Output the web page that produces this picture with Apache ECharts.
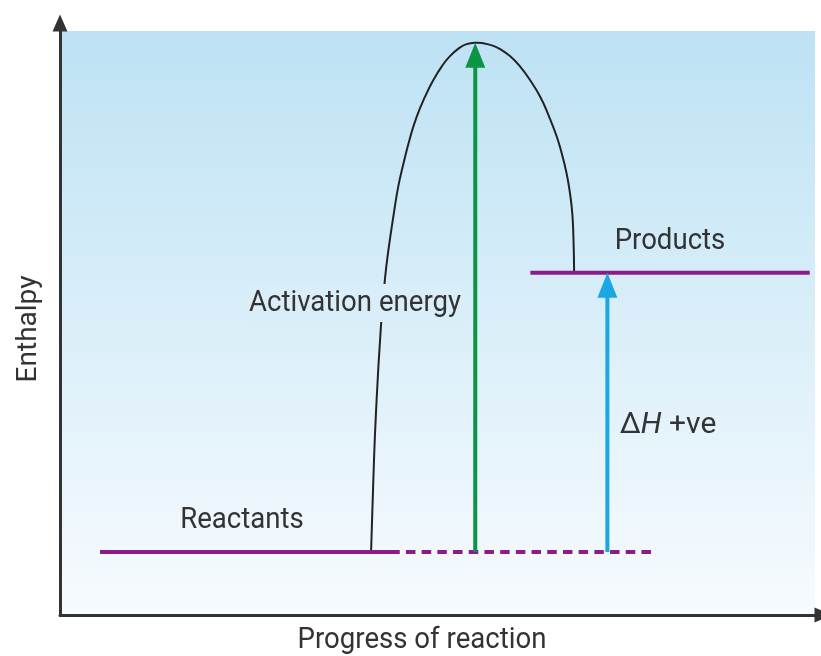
<!DOCTYPE html>
<html lang="en" style="height: 100%">
<head>
  <meta charset="utf-8">
</head>
<body style="height: 100%; margin: 0">
  <div id="container" style="width: 821px; height: 656px"></div>

  <script type="text/javascript" src="https://cdn.jsdelivr.net/npm/echarts@6/dist/echarts.min.js"></script>

  <script type="text/javascript">
    // enthalpy levels (0-100 scale)
    var reactantLevel = 10.8;
    var productLevel = 58.6;
    var peakLevel = 98.0;

    // extents along the progress of reaction (0-100 scale)
    var reactantSolid = [5.3, 45.0];
    var reactantDashed = [45.0, 78.5];
    var productSpan = [62.3, 99.3];

    // the activation hump
    var curveX = [41.2, 41.5, 41.85, 42.5, 43.05, 43.5, 44.15, 44.8, 45.5, 46.35, 47.25, 48.35, 49.45, 50.55, 51.65, 53.0, 53.85, 55.0,
                  56.05, 57.4, 58.3, 59.6, 60.95, 62.25, 63.6, 64.7, 65.8, 66.45, 67.1, 67.55, 67.85, 68.0, 68.1];
    var curveY = [10.8, 23.1, 34.6, 49.3, 57.65, 62.5, 68.2, 73.35, 77.35, 81.65, 85.35, 88.75, 91.6, 93.9, 95.7, 97.2, 97.75, 98.0,
                  97.9, 97.45, 96.9, 95.7, 93.9, 91.6, 88.75, 85.6, 81.9, 79.05, 75.6, 72.2, 68.8, 64.8, 58.6];

    // arrow positions
    var activationX = 55.0;
    var deltaHX = 72.5;

    var purple = '#8c1b8a';
    var green = '#0b9444';
    var blue = '#1ba6e4';
    var textColor = '#333';
    var font = 'Roboto, "Liberation Sans", sans-serif';

    var dom = document.getElementById('container');
    var myChart = echarts.init(dom, null, { renderer: 'canvas' });

    // shorten the shafts so the heads stay sharp (584px grid height per 100 units)
    var headTrim = 14 / 5.84;

    var curveData = curveX.map(function (x, i) { return [x, curveY[i]]; });

    function axisOpt() {
      return {
        type: 'value',
        min: 0,
        max: 100,
        axisLine: {
          show: true,
          symbol: ['none', 'triangle'],
          symbolSize: [15, 17],
          symbolOffset: [0, 8],
          lineStyle: { color: '#333', width: 3 }
        },
        axisTick: { show: false },
        axisLabel: { show: false },
        splitLine: { show: false }
      };
    }

    function label(text, x, y, extra, sx) {
      var style = {
        text: text, font: '30px ' + font, fill: textColor,
        align: 'center', verticalAlign: 'middle'
      };
      Object.assign(style, extra || {});
      return { type: 'text', x: x, y: y, scaleX: sx || 0.92, z: 10, style: style };
    }

    // the hump is drawn as one unconstrained smooth polyline through the read points
    function renderCurve(params, api) {
      var pts = curveData.map(function (p) { return api.coord(p); });
      return {
        type: 'polyline',
        shape: { points: pts, smooth: 0.5 },
        style: { stroke: '#222', lineWidth: 2, fill: null }
      };
    }

    var option = {
      animation: false,
      grid: {
        left: 60,
        right: 6,
        top: 31,
        bottom: 41,
        show: true,
        borderWidth: 0,
        backgroundColor: new echarts.graphic.LinearGradient(0, 0, 0, 1, [
          { offset: 0, color: '#bde2f4' },
          { offset: 1, color: '#f7fbfe' }
        ])
      },
      xAxis: axisOpt(),
      yAxis: axisOpt(),
      series: [
        {
          type: 'line',
          symbol: 'none',
          data: [[reactantSolid[0], reactantLevel], [reactantSolid[1], reactantLevel]],
          lineStyle: { color: purple, width: 4 }
        },
        {
          type: 'line',
          symbol: 'none',
          data: [[reactantDashed[0], reactantLevel], [reactantDashed[1], reactantLevel]],
          lineStyle: { color: purple, width: 4, type: [9.5, 6.2], dashOffset: 9.5 }
        },
        {
          type: 'line',
          symbol: 'none',
          data: [[productSpan[0], productLevel], [productSpan[1], productLevel]],
          lineStyle: { color: purple, width: 4 }
        },
        {
          type: 'custom',
          renderItem: renderCurve,
          data: [curveData[0]],
          z: 2
        },
        {
          type: 'line',
          symbol: 'none',
          data: [[activationX, reactantLevel], [activationX, peakLevel - headTrim]],
          lineStyle: { color: green, width: 4 },
          z: 3
        },
        {
          type: 'line',
          symbol: 'none',
          data: [[deltaHX, reactantLevel], [deltaHX, productLevel - headTrim]],
          lineStyle: { color: blue, width: 4 },
          z: 3
        },
        {
          type: 'scatter',
          symbol: 'triangle',
          symbolSize: [20, 25],
          symbolOffset: [0, '50%'],
          z: 5,
          data: [
            { value: [activationX, peakLevel], itemStyle: { color: green, opacity: 1 } },
            { value: [deltaHX, productLevel], itemStyle: { color: blue, opacity: 1 } }
          ]
        }
      ],
      graphic: [
        {
          type: 'text', x: 29, y: 329, rotation: Math.PI / 2, z: 10,
          style: { text: 'Enthalpy', font: '28px ' + font, fill: textColor, align: 'center', verticalAlign: 'middle' }
        },
        label('Progress of reaction', 422, 640),
        label('Reactants', 242, 520),
        label('Products', 670, 241),
        label('Activation energy', 355, 303, { backgroundColor: '#d9eef9', padding: [4, 2] }),
        label('{n|Δ}{i|H}{n| +ve}', 668, 425, {
          rich: {
            n: { font: '30px ' + font, fill: textColor },
            i: { font: 'italic 30px ' + font, fill: textColor }
          }
        }, 1)
      ]
    };

    myChart.setOption(option);
    window.addEventListener('resize', myChart.resize);
  </script>
</body>
</html>
